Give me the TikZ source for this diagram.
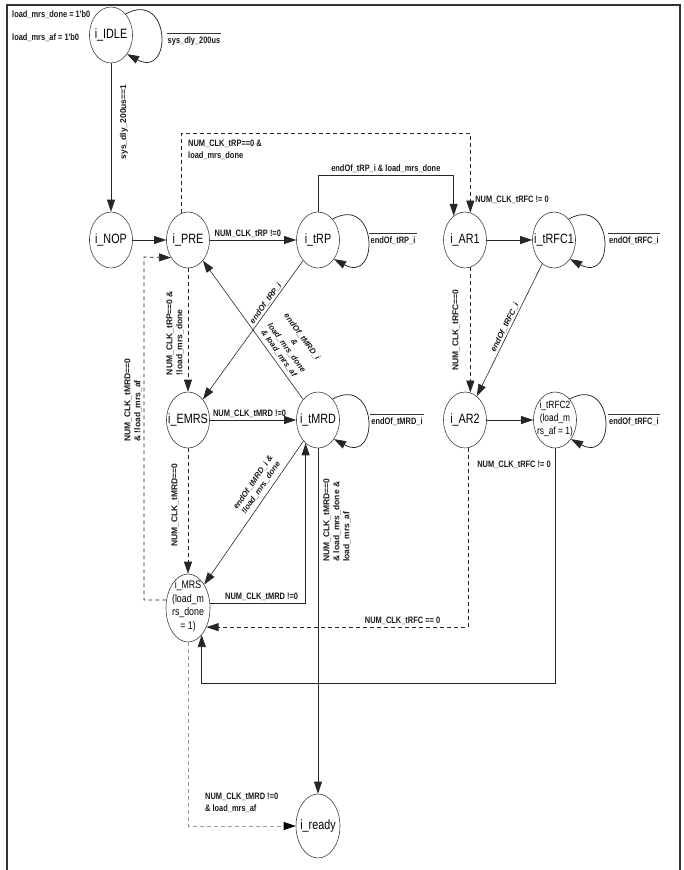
\documentclass[tikz,border=0pt]{standalone}
\usepackage{fontspec}
\setmainfont{Liberation Sans}
\newfontfamily\nodefnt[FakeStretch=0.8]{Liberation Sans}
\newfontfamily\labfnt[FakeStretch=0.8]{Liberation Sans}
\usetikzlibrary{arrows.meta,shapes.geometric}
\newcommand{\ndtxt}[1]{\makebox[0pt]{#1}}
\newcommand{\ndml}[1]{\makebox[0pt]{\raisebox{-2.5pt}{\smash{\begin{tabular}{@{}c@{}}#1\end{tabular}}}}}
\begin{document}
\begin{tikzpicture}[x=1pt,y=-1pt,
 st/.style={ellipse, draw=black!75, line width=0.6pt, minimum width=43pt, minimum height=56pt, inner sep=0pt, font=\nodefnt\fontsize{13.5}{15}\selectfont},
 lab/.style={font=\labfnt\bfseries\fontsize{9.3}{11.5}\selectfont, inner sep=1pt, text=black!90},
 vlab/.style={font=\bfseries\fontsize{8.5}{10}\selectfont, rotate=90, align=left, inner sep=1pt, text=black!90},
 dlab/.style={font=\bfseries\itshape\fontsize{8}{9.5}\selectfont, align=center, inner sep=1.5pt, text=black!90},
 olab/.style={lab, inner xsep=1pt, inner ysep=3.5pt},
 ovl/.style={draw=black!80, line width=0.5pt},
 tr/.style={draw=black!85, line width=0.75pt, -{Triangle[length=12pt,width=8pt]}},
 dtr/.style={tr, dash pattern=on 4pt off 3pt},
 gtr/.style={draw=black!40, line width=0.75pt, dash pattern=on 4pt off 3pt, -{Triangle[length=12pt,width=8pt,color=black]}},
 frame/.style={draw=black!80, line width=1.6pt}]
\useasboundingbox (0,0) rectangle (683,870);
\draw[frame] (7,870) -- (7,5) -- (680,5) -- (680,870);

% states
\node[st] (idle) at (111,35) {\ndtxt{i\_IDLE}};
\node[st] (nop) at (111,240) {\ndtxt{i\_NOP}};
\node[st] (pre) at (188,240) {\ndtxt{i\_PRE}};
\node[st] (trp) at (318,240) {\ndtxt{i\_tRP}};
\node[st] (ar1) at (465,240) {\ndtxt{i\_AR1}};
\node[st] (trfc1) at (554,240) {\ndtxt{i\_tRFC1}};
\node[st] (emrs) at (188,420) {\ndtxt{i\_EMRS}};
\node[st] (tmrd) at (318,420) {\ndtxt{i\_tMRD}};
\node[st] (ar2) at (465,420) {\ndtxt{i\_AR2}};
\node[st, font=\nodefnt\fontsize{10.5}{13}\selectfont] (trfc2) at (555,420) {\ndml{i\_tRFC2\\(load\_m\\rs\_af = 1)}};
\node[st, minimum width=44pt, minimum height=68pt, font=\nodefnt\fontsize{11}{13.5}\selectfont] (mrs) at (188,608) {\ndml{i\_MRS\\(load\_m\\rs\_done\\= 1)}};
\node[st, minimum width=44pt, minimum height=64pt] (ready) at (318,826) {\ndtxt{i\_ready}};

% top-left notes
\node[lab, anchor=west] (ld) at (11,15) {load\_mrs\_done = 1'b0};
\node[lab, anchor=west] (la) at (11,38) {load\_mrs\_af = 1'b0};

% self loops
\draw[tr] (idle.55) .. controls +(45,-25) and +(46,25) .. (idle.-50);
\draw[tr] (trp.55) .. controls +(45,-25) and +(46,25) .. (trp.-50);
\draw[tr] (tmrd.55) .. controls +(45,-25) and +(46,25) .. (tmrd.-50);
\draw[tr] (trfc1.55) .. controls +(45,-25) and +(46,25) .. (trfc1.-50);
\draw[tr] (trfc2.55) .. controls +(45,-25) and +(46,25) .. (trfc2.-50);
\node[olab] (o1) at (194,41) {sys\_dly\_200us};
\draw[ovl] (o1.north west) -- (o1.north east);
\node[olab] (o2) at (393,241) {endOf\_tRP\_i};
\draw[ovl] (o2.north west) -- (o2.north east);
\node[olab] (o3) at (397,422) {endOf\_tMRD\_i};
\draw[ovl] (o3.north west) -- (o3.north east);
\node[olab] (o4) at (634,241) {endOf\_tRFC\_i};
\draw[ovl] (o4.north west) -- (o4.north east);
\node[olab] (o5) at (634,422) {endOf\_tRFC\_i};
\draw[ovl] (o5.north west) -- (o5.north east);

% transitions
\draw[tr] (idle) -- (nop);
\node[vlab] (l1) at (124,122) {sys\_dly\_200us==1};
\draw[tr] (nop) -- (pre);
\draw[tr] (pre) -- node[lab, above=1pt, pos=0.44] (l2) {NUM\_CLK\_tRP !=0} (trp);
\draw[tr, line width=0.6pt] (trp) -- node[dlab, sloped, above, pos=0.33] (l3) {endOf\_tRP\_i} (emrs);
\draw[tr, line width=0.6pt] (tmrd) -- node[dlab, sloped, above=2pt, pos=0.3] (l4) {endOf\_tMRD\_i\\\&\\load\_mrs\_done\\\& load\_mrs\_af} (pre);
\draw[tr, line width=0.6pt] (tmrd) -- node[dlab, sloped, above=3pt, pos=0.36] (l5) {endOf\_tMRD\_i \&\\!load\_mrs\_done} (mrs);
\draw[tr, line width=0.6pt] (trfc1) -- node[dlab, sloped, above, pos=0.5] (l6) {endOf\_tRFC\_i} (ar2);
\draw[tr] (emrs) -- node[lab, above=1pt, pos=0.46] (l7) {NUM\_CLK\_tMRD !=0} (tmrd);
\draw[tr] (ar1) -- (trfc1);
\draw[tr] (ar2) -- (trfc2);
\node[lab] (l8) at (512,200) {NUM\_CLK\_tRFC != 0};
\node[lab] (l9) at (514,465) {NUM\_CLK\_tRFC != 0};

\draw[dtr] (ar1.-79) -- (ar2.79);
\node[vlab] (l10) at (456,330) {NUM\_CLK\_tRFC==0};
\draw[dtr] (pre) -- (emrs);
\node[vlab] (l11) at (175,333) {NUM\_CLK\_tRP==0 \&\\!load\_mrs\_done};
\draw[dtr] (emrs) -- (mrs);
\node[vlab] (l12) at (175,505) {NUM\_CLK\_tMRD==0};

\coordinate (lc) at (144,257);
\draw[dtr] (mrs.160) -| (lc) -- (pre.226);
\node[vlab] (l13) at (133,400) {NUM\_CLK\_tMRD==0\\\& !load\_mrs\_af};

\draw[tr] (mrs.13) -| node[lab, above=1pt, pos=0.27] (l14) {NUM\_CLK\_tMRD !=0} (tmrd.-118);
\draw[dtr] (ar2.-84) |- node[lab, above=1pt, pos=0.625] (l15) {NUM\_CLK\_tRFC == 0} (mrs.-46);
\coordinate (bc) at (555,683);
\draw[tr] (trfc2) -- (bc) -| (mrs.-63);
\draw[gtr] (mrs) |- (ready);
\node[lab, anchor=west, align=left] (l16) at (204,803) {NUM\_CLK\_tMRD !=0\\\& load\_mrs\_af};
\draw[tr] (tmrd) -- (ready);
\node[vlab] (l17) at (337,520) {NUM\_CLK\_tMRD==0\\\& load\_mrs\_done \&\\load\_mrs\_af};

\coordinate (tc) at (0,133);
\draw[dtr] (pre.103) -- (pre.103 |- tc) -| (ar1.79);
\node[lab, anchor=north west, align=left] (l18) at (187,139) {NUM\_CLK\_tRP==0 \&\\load\_mrs\_done};
\coordinate (sc) at (0,175);
\draw[tr] (trp.north) -- (trp.north |- sc) -| node[lab, above=1pt, pos=0.25] (l19) {endOf\_tRP\_i \& load\_mrs\_done} (ar1.115);
\end{tikzpicture}
\end{document}
